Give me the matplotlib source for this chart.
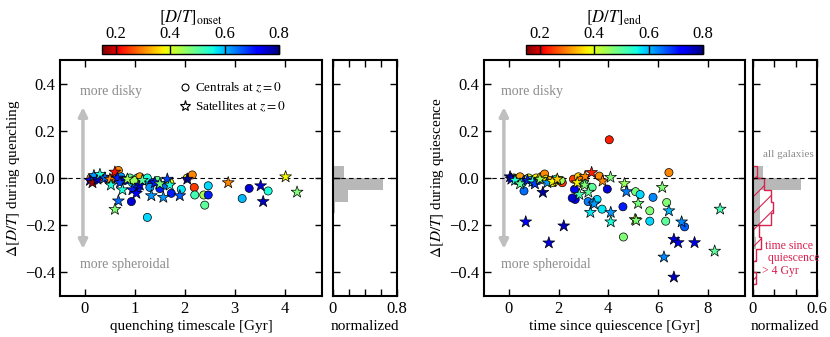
import numpy as np
import matplotlib
matplotlib.use("Agg")
import matplotlib.pyplot as plt
from matplotlib.lines import Line2D
from matplotlib.colors import Normalize
from matplotlib.cm import ScalarMappable

plt.rcParams["font.family"] = ["Liberation Serif", "DejaVu Serif"]
plt.rcParams["mathtext.fontset"] = "stix"
plt.rcParams["hatch.linewidth"] = 0.8

# --- left panel: quenching timescale vs change in D/T, colour = [D/T]_onset ---
q_cen_x = [0.12, 0.2, 0.3, 0.45, 0.55, 0.67, 0.72, 0.8, 0.9, 0.95, 1.05, 1.1, 1.2, 1.25,
           1.35, 1.45, 1.5, 1.6, 1.7, 1.73, 1.93, 0.93, 1.25, 1.05, 1.3, 0.98, 2.05, 2.15,
           2.19, 2.2, 2.38, 2.47, 2.47, 2.4, 3.15, 3.29, 3.67]
q_cen_y = [0.0, -0.01, 0.005, -0.005, 0.0, 0.032, 0.005, -0.01, 0.0, -0.02, 0.0, 0.005,
           -0.01, 0.0, -0.02, -0.01, -0.045, -0.03, -0.02, -0.065, -0.048, -0.10, -0.167,
           -0.045, -0.04, -0.01, 0.0, 0.013, -0.04, -0.072, -0.072, -0.072, -0.033, -0.115,
           -0.087, -0.044, -0.055]
q_cen_c = [0.30, 0.70, 0.25, 0.72, 0.30, 0.30, 0.62, 0.75, 0.50, 0.58, 0.55, 0.32, 0.62,
           0.55, 0.70, 0.50, 0.70, 0.65, 0.38, 0.70, 0.57, 0.75, 0.58, 0.70, 0.62, 0.45,
           0.38, 0.30, 0.25, 0.52, 0.44, 0.70, 0.58, 0.50, 0.60, 0.75, 0.55]

q_sat_x = [0.1, 0.15, 0.18, 0.25, 0.3, 0.4, 0.5, 0.52, 0.6, 0.65, 0.7, 0.75, 0.85, 0.67,
           0.6, 0.95, 1.03, 1.1, 1.15, 1.33, 1.4, 1.5, 1.57, 1.65, 1.7, 1.9, 2.05, 2.87,
           3.52, 3.57, 4.02, 4.25]
q_sat_y = [-0.01, -0.02, 0.01, -0.005, 0.015, 0.0, -0.005, -0.03, 0.025, 0.0, -0.02, -0.05,
           -0.005, -0.097, -0.133, -0.05, -0.065, -0.03, -0.01, -0.075, -0.02, -0.025,
           -0.082, -0.005, -0.03, -0.075, -0.005, -0.02, -0.033, -0.10, 0.005, -0.06]
q_sat_c = [0.72, 0.17, 0.62, 0.75, 0.55, 0.65, 0.30, 0.55, 0.22, 0.70, 0.68, 0.55, 0.45,
           0.65, 0.47, 0.70, 0.72, 0.75, 0.50, 0.62, 0.70, 0.48, 0.62, 0.68, 0.55, 0.66,
           0.78, 0.30, 0.75, 0.76, 0.38, 0.47]

# --- right panel: time since quiescence vs change in D/T, colour = [D/T]_end ---
r_cen_x = [0.2, 0.3, 0.45, 0.55, 0.61, 0.7, 0.8, 0.9, 1.0, 1.1, 1.2, 1.3, 1.44, 1.5, 1.65,
           1.8, 1.9, 2.05, 2.15, 2.1, 2.6, 2.64, 2.67, 2.55, 2.8, 2.9, 3.0, 3.19, 3.4, 3.55,
           3.64, 3.75, 3.96, 4.04, 4.59, 4.61, 5.1, 5.28, 5.67, 5.67, 5.8, 6.31, 6.35, 6.44,
           7.07, 3.35]
r_cen_y = [0.0, -0.01, 0.005, -0.02, -0.055, -0.005, 0.0, -0.01, -0.02, 0.0, -0.01, 0.005,
           0.017, -0.005, -0.01, -0.02, -0.005, -0.01, -0.02, -0.01, -0.005, -0.048, -0.091,
           -0.085, 0.005, -0.01, -0.02, -0.10, -0.105, -0.091, 0.008, -0.132, -0.047, 0.162,
           -0.122, -0.25, -0.058, -0.07, -0.139, -0.183, -0.082, -0.183, -0.104, 0.023,
           -0.207, -0.04]
r_cen_c = [0.38, 0.62, 0.32, 0.55, 0.65, 0.70, 0.40, 0.60, 0.72, 0.38, 0.65, 0.35, 0.30,
           0.38, 0.32, 0.38, 0.55, 0.70, 0.25, 0.45, 0.25, 0.72, 0.72, 0.75, 0.35, 0.30,
           0.50, 0.64, 0.62, 0.58, 0.30, 0.57, 0.75, 0.23, 0.70, 0.47, 0.48, 0.58, 0.47,
           0.58, 0.63, 0.50, 0.47, 0.30, 0.66, 0.50]

r_sat_x = [0.05, 0.1, 0.25, 0.45, 0.75, 0.95, 1.05, 1.25, 1.37, 1.55, 1.75, 1.95, 0.68,
           1.61, 2.21, 2.75, 2.84, 3.05, 3.07, 3.2, 3.28, 3.33, 3.43, 3.77, 4.09, 4.1, 4.1,
           4.65, 4.73, 5.08, 5.12, 5.2, 6.17, 6.24, 6.44, 6.64, 6.64, 6.81, 6.95, 7.47,
           8.28, 8.5]
r_sat_y = [0.005, -0.005, -0.01, -0.025, -0.01, -0.015, -0.025, -0.005, -0.061, -0.02,
           -0.015, -0.005, -0.186, -0.275, -0.203, -0.02, -0.07, -0.03, 0.006, -0.06,
           -0.146, 0.023, -0.11, -0.013, 0.003, -0.146, -0.186, -0.024, -0.058, -0.176,
           -0.18, -0.108, -0.04, -0.335, -0.139, -0.26, -0.42, -0.274, -0.186, -0.274,
           -0.31, -0.132]
r_sat_c = [0.78, 0.72, 0.55, 0.50, 0.70, 0.55, 0.68, 0.45, 0.78, 0.62, 0.38, 0.35, 0.72,
           0.74, 0.76, 0.38, 0.52, 0.47, 0.30, 0.50, 0.57, 0.23, 0.62, 0.30, 0.47, 0.62,
           0.55, 0.45, 0.64, 0.40, 0.47, 0.48, 0.47, 0.63, 0.60, 0.74, 0.76, 0.74, 0.63,
           0.74, 0.50, 0.52]

# --- histograms (normalized fractions per 0.05 bin, from -0.45 up to 0.05) ---
hist_edges = [-0.45, -0.4, -0.35, -0.3, -0.25, -0.2, -0.15, -0.1, -0.05, 0.0, 0.05]
q_hist_all = [0.0, 0.0, 0.0, 0.0, 0.0, 0.01, 0.02, 0.19, 0.63, 0.14]
r_hist_all = [0.01, 0.0, 0.01, 0.03, 0.02, 0.07, 0.07, 0.07, 0.45, 0.09]
r_hist_old = [0.03, 0.0, 0.03, 0.075, 0.055, 0.17, 0.19, 0.17, 0.10, 0.04]

norm = Normalize(0.15, 0.8)
cmap = plt.get_cmap("jet_r")
gray_txt = "0.55"
red_h = "#d9204f"

fig = plt.figure(figsize=(8.3, 3.37), dpi=100)
axL = fig.add_axes([0.0723, 0.1217, 0.3157, 0.7003])
hL = fig.add_axes([0.4012, 0.1217, 0.0771, 0.7003])
axR = fig.add_axes([0.5831, 0.1217, 0.3145, 0.7003])
hR = fig.add_axes([0.9072, 0.1217, 0.0771, 0.7003])
cL = fig.add_axes([0.1229, 0.8398, 0.2133, 0.0267])
cR = fig.add_axes([0.6337, 0.8398, 0.2133, 0.0267])


def style(ax):
    ax.tick_params(direction="in", top=True, right=True, length=5, width=1, labelsize=12)
    for s in ax.spines.values():
        s.set_linewidth(1.5)
    ax.set_ylim(-0.5, 0.5)
    ax.set_yticks([-0.4, -0.2, 0.0, 0.2, 0.4])


def scatter_panel(ax, cx, cy, cc, sx, sy, sc, arrow_x, text_x):
    ax.annotate("", xy=(arrow_x, 0.3), xytext=(arrow_x, -0.3),
                arrowprops=dict(arrowstyle="<|-|>", color="0.75", lw=2.5,
                                mutation_scale=13, shrinkA=0, shrinkB=0), zorder=1)
    ax.text(text_x, 0.365, "more disky", color=gray_txt, fontsize=10, va="center")
    ax.text(text_x, -0.365, "more spheroidal", color=gray_txt, fontsize=10, va="center")
    ax.axhline(0, color="k", ls="--", lw=0.8, dashes=(4, 3), zorder=2)
    ax.scatter(cx, cy, c=cc, cmap=cmap, norm=norm, s=34, marker="o",
               edgecolors="k", linewidths=0.5, zorder=3)
    ax.scatter(sx, sy, c=sc, cmap=cmap, norm=norm, s=80, marker="*",
               edgecolors="k", linewidths=0.5, zorder=4)
    style(ax)


scatter_panel(axL, q_cen_x, q_cen_y, q_cen_c, q_sat_x, q_sat_y, q_sat_c, -0.04, -0.09)
axL.set_xlim(-0.5, 4.75)
axL.set_xticks([0, 1, 2, 3, 4])
axL.set_xlabel("quenching timescale [Gyr]", fontsize=11, labelpad=2)
axL.set_ylabel(r"$\Delta[D/T]$ during quenching", fontsize=11, labelpad=2)

handles = [Line2D([], [], ls="", marker="o", mfc="w", mec="k", mew=0.8, ms=5),
           Line2D([], [], ls="", marker="*", mfc="w", mec="k", mew=0.8, ms=8)]
axL.legend(handles, [r"Centrals at $z=0$", r"Satellites at $z=0$"], loc="upper left",
           bbox_to_anchor=(0.41, 0.95), frameon=False, fontsize=9.5,
           handletextpad=0.2, handlelength=1.2, labelspacing=0.35, borderpad=0.2)

scatter_panel(axR, r_cen_x, r_cen_y, r_cen_c, r_sat_x, r_sat_y, r_sat_c, -0.2, -0.3)
axR.set_xlim(-1, 9.5)
axR.set_xticks([0, 2, 4, 6, 8])
axR.set_xlabel("time since quiescence [Gyr]", fontsize=11, labelpad=2)
axR.set_ylabel(r"$\Delta[D/T]$ during quiescence", fontsize=11, labelpad=2)

# histograms
hL.stairs(q_hist_all, hist_edges, orientation="horizontal", fill=True, color="0.72",
          lw=0, zorder=1)
hL.axhline(0, color="k", ls="--", lw=0.8, dashes=(4, 3), zorder=3)
style(hL)
hL.set_xlim(0, 0.8)
hL.set_xticks([0, 0.2, 0.4, 0.6, 0.8])
hL.set_xticklabels(["0", "", "", "", "0.8"])
hL.set_yticklabels([])
hL.set_xlabel("normalized", fontsize=11, labelpad=2)

hR.stairs(r_hist_all, hist_edges, orientation="horizontal", fill=True, color="0.72",
          lw=0, zorder=1)
hR.stairs(r_hist_old, hist_edges, orientation="horizontal", fill=True, facecolor="none",
          edgecolor=red_h, hatch="//", lw=1.0, zorder=2)
hR.axhline(0, color="k", ls="--", lw=0.8, dashes=(4, 3), zorder=3)
style(hR)
hR.set_xlim(0, 0.6)
hR.set_xticks([0, 0.2, 0.4, 0.6])
hR.set_xticklabels(["0", "", "", "0.6"])
hR.set_yticklabels([])
hR.set_xlabel("normalized", fontsize=11, labelpad=2)
hR.text(0.57, 0.1, "all galaxies", color=gray_txt, fontsize=8, ha="right", va="center")
hR.text(0.08, -0.34, " time since\n  quiescence\n> 4 Gyr", color=red_h, fontsize=8.5,
        ha="left", va="center", linespacing=1.05)

# colorbars
for cax, lab in [(cL, r"$[D/T]_{\rm onset}$"), (cR, r"$[D/T]_{\rm end}$")]:
    cb = fig.colorbar(ScalarMappable(norm=norm, cmap=cmap), cax=cax,
                      orientation="horizontal", ticks=[0.2, 0.4, 0.6, 0.8])
    cax.xaxis.set_ticks_position("top")
    cax.xaxis.set_label_position("top")
    cax.tick_params(direction="in", length=6.5, width=1, labelsize=12, pad=2)
    cb.outline.set_linewidth(1)
    cb.set_label(lab, fontsize=12, labelpad=3)

fig.savefig("out.png", dpi=100)
